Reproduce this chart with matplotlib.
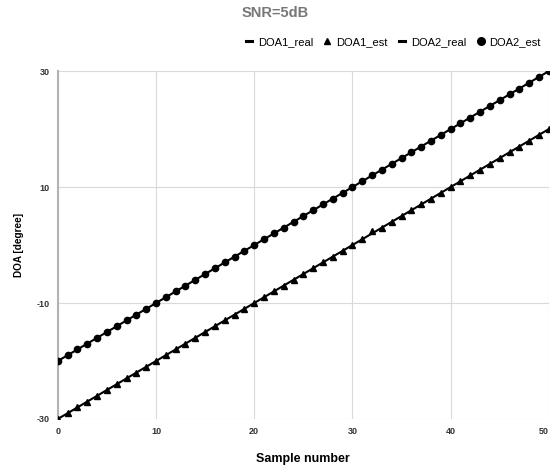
import matplotlib
matplotlib.use("Agg")
import matplotlib.pyplot as plt
from matplotlib.lines import Line2D

samples = [0, 1, 2, 3, 4, 5, 6, 7, 8, 9, 10, 11, 12, 13, 14, 15, 16, 17, 18, 19, 20,
           21, 22, 23, 24, 25, 26, 27, 28, 29, 30, 31, 32, 33, 34, 35, 36, 37, 38, 39, 40,
           41, 42, 43, 44, 45, 46, 47, 48, 49, 50]
doa1_real = [-30, -29, -28, -27, -26, -25, -24, -23, -22, -21, -20, -19, -18, -17, -16, -15,
             -14, -13, -12, -11, -10, -9, -8, -7, -6, -5, -4, -3, -2, -1, 0, 1, 2, 3, 4, 5,
             6, 7, 8, 9, 10, 11, 12, 13, 14, 15, 16, 17, 18, 19, 20]
doa1_est = [-30, -29, -28, -27, -26, -25, -24, -23, -22, -21, -20, -19, -18, -17, -16, -15,
            -14, -13, -12, -11, -10, -9, -8, -7, -6, -5, -4, -3, -2, -1, 0, 1, 2.4, 3, 4, 5,
            6, 7, 8, 9, 10, 11, 12, 13, 14, 15, 16, 17, 18, 19, 20]
doa2_real = [-20, -19, -18, -17, -16, -15, -14, -13, -12, -11, -10, -9, -8, -7, -6, -5, -4,
             -3, -2, -1, 0, 1, 2, 3, 4, 5, 6, 7, 8, 9, 10, 11, 12, 13, 14, 15, 16, 17, 18,
             19, 20, 21, 22, 23, 24, 25, 26, 27, 28, 29, 30]
doa2_est = [-20, -19, -18, -17, -16, -15, -14, -13, -12, -11, -10, -9, -8, -7, -6, -5, -4,
            -3, -2, -1, 0, 1, 2, 3, 4, 5, 6, 7, 8, 9, 10, 11, 12, 13, 14, 15, 16, 17, 18,
            19, 20, 21, 22, 23, 24, 25, 26, 27, 28, 29, 30]
x_ticks = [0, 10, 20, 30, 40, 50]
y_ticks = [-30, -10, 10, 30]
y_tick_labels = ['-30', '-10', '10', '30']

plt.rcParams['font.family'] = ['Liberation Sans', 'DejaVu Sans']
plt.rcParams['axes.unicode_minus'] = False

fig = plt.figure(figsize=(5.51, 4.65), dpi=100)
ax = fig.add_axes([0.105, 0.099, 0.891, 0.748])

ax.plot(samples, doa1_real, color='black', lw=1.5, zorder=3)
ax.plot(samples, doa1_est, color='black', lw=0, marker='^', ms=4.2, zorder=4)
ax.plot(samples, doa2_real, color='black', lw=1.5, zorder=3)
ax.plot(samples, doa2_est, color='black', lw=0, marker='o', ms=4.5, zorder=4)

ax.set_xlim(0, 50)
ax.set_ylim(-30, 30)
ax.set_xticks(x_ticks)
ax.set_yticks(y_ticks)
ax.set_yticklabels(y_tick_labels)
ax.grid(True, color='#d9d9d9', lw=0.8)
ax.set_axisbelow(True)
for s in ['top', 'right', 'bottom']:
    ax.spines[s].set_visible(False)
ax.spines['left'].set_color('#b3b3b3')
ax.spines['left'].set_linewidth(1.5)
ax.tick_params(length=0, labelsize=6.5, pad=6)
for lab in ax.get_xticklabels() + ax.get_yticklabels():
    lab.set_fontweight('bold')
    lab.set_color('#333333')
ax.get_xticklabels()[-1].set_horizontalalignment('right')

ax.set_xlabel('Sample number', fontsize=9, fontweight='bold', labelpad=12)
ax.set_ylabel('DOA [degree]', fontsize=7.2, fontweight='bold', labelpad=9)
fig.text(0.5, 0.972, 'SNR=5dB', ha='center', va='center', fontsize=10.5,
         fontweight='bold', color='#777777')

handles = [
    Line2D([], [], color='black', lw=2.2, marker=None),
    Line2D([], [], color='black', lw=0, marker='^', ms=5),
    Line2D([], [], color='black', lw=2.2, marker=None),
    Line2D([], [], color='black', lw=0, marker='o', ms=5.5),
]
labels = ['DOA1_real', 'DOA1_est', 'DOA2_real', 'DOA2_est']
fig.legend(handles, labels, loc='center right', bbox_to_anchor=(1.0, 0.91), ncol=4,
           frameon=False, fontsize=8, handlelength=0.6, handletextpad=0.5,
           columnspacing=1.0)

fig.savefig('out.png', dpi=100)
